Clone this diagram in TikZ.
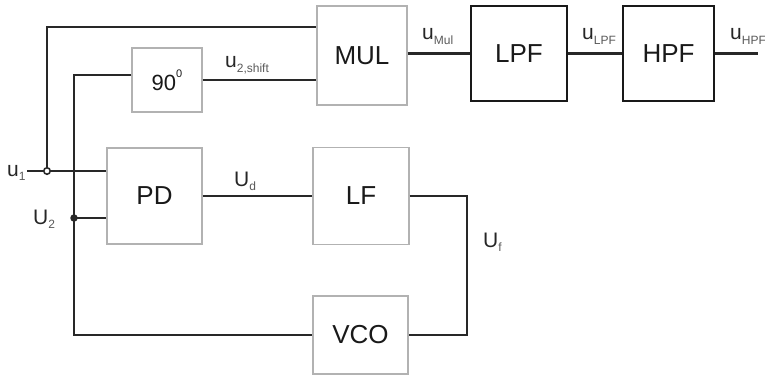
\documentclass[tikz,border=0pt]{standalone}
\usepackage{fontspec}
\setmainfont{Liberation Sans}
\usetikzlibrary{calc}
\definecolor{wirecol}{RGB}{40,40,40}
\definecolor{boxcol}{RGB}{178,178,178}
\tikzset{
  blk/.style  = {draw=boxcol, line width=1.2pt, inner sep=0pt, text=black!90,
                 font=\fontsize{26}{28}\selectfont},
  fblk/.style = {blk, draw=black!90, line width=2pt},
  wire/.style = {draw=wirecol, line width=2.2pt},
  slab/.style = {anchor=base west, inner sep=0pt, text=black!85,
                 font=\fontsize{21}{23}\selectfont},
  % junction dots: open where u1 branches off, filled on the feedback line
  jdot/.style = {circle, fill=wirecol, inner sep=0pt, minimum size=7.5pt},
  odot/.style = {circle, draw=wirecol, line width=1.6pt, fill=white,
                 inner sep=0pt, minimum size=6.5pt},
}
\newcommand{\sig}[2]{#1\raisebox{-0.45ex}{\fontsize{12}{13}\selectfont\color{black!65}#2}}

\begin{document}
\begin{tikzpicture}[x=1pt, y=-1pt]
\useasboundingbox (0,0) rectangle (765,377);
% blocks
\node[blk, minimum width=90pt, minimum height=99pt] (mul) at (362,55.5) {MUL};
\node[blk, minimum width=70pt, minimum height=64pt,
      font=\fontsize{22}{24}\selectfont] (shift) at (167,80)
      {90\raisebox{1.1ex}{\fontsize{11}{12}\selectfont 0}};
\node[fblk, minimum width=96pt, minimum height=95pt] (lpf) at (519,53.5) {LPF};
\node[fblk, minimum width=91pt, minimum height=95pt] (hpf) at (668.5,53.5) {HPF};
\node[blk, minimum width=95pt, minimum height=96pt] (pd) at (154.5,196) {PD};
\node[blk, minimum width=96pt, minimum height=97pt] (lf) at (361,196) {LF};
\node[blk, minimum width=95pt, minimum height=78pt] (vco) at (360.5,335) {VCO};
% wires
\coordinate (in1) at (27,171);
\coordinate (out) at (758,53.5);
\coordinate (c1) at (74,75);
\coordinate (c2) at (74,335);
\coordinate (cf) at (467,196);
\draw[wire] (in1) -- (pd.west |- in1);
\draw[wire] (47,171) |- (mul.west |- 0,27);
\draw[wire] (shift.west |- c1) -- (c1) -- (c2) -- (vco.west);
\draw[wire] (74,218) -- (pd.west |- 0,218);
\draw[wire] (shift.east) -- (shift.east -| mul.west);
\draw[wire] (mul.east |- lpf) -- (lpf.west);
\draw[wire] (lpf.east) -- (hpf.west);
\draw[wire] (hpf.east) -- (out);
\draw[wire] (pd.east) -- (lf.west);
\draw[wire] (lf.east) -- (cf) |- (vco.east);
\node[odot] (j1) at (47,171) {};
\node[jdot] (j2) at (74,218) {};
% labels
\node[slab] (lu1)   at (7,176)   {\sig{u}{1}};
\node[slab] (lU2)   at (33,224)  {\sig{U}{2}};
\node[slab] (lsh)   at (225,68)  {\sig{u}{2,shift}};
\node[slab] (lmul)  at (422,40)  {\sig{u}{Mul}};
\node[slab] (llpf)  at (582,40)  {\sig{u}{LPF}};
\node[slab] (lhpf)  at (730,40)  {\sig{u}{HPF}};
\node[slab] (lUd)   at (234,186) {\sig{U}{d}};
\node[slab] (lUf)   at (483,247) {\sig{U}{f}};
\end{tikzpicture}
\end{document}
